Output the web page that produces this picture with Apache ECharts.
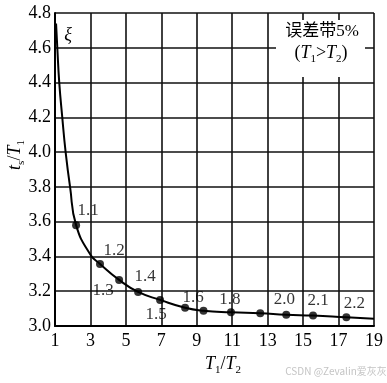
<!DOCTYPE html>
<html>
<head>
<meta charset="utf-8">
<script src="https://cdn.jsdelivr.net/npm/echarts@6/dist/echarts.min.js"></script>
<style>
html,body{margin:0;padding:0;background:#fff;}
#chart{width:387px;height:383px;}
</style>
</head>
<body>
<div id="chart"></div>
<script>
// x ticks (T1/T2)
var xTicks = [1, 3, 5, 7, 9, 11, 13, 15, 17, 19];
// y ticks (ts/T1)
var yTicks = [3.0, 3.2, 3.4, 3.6, 3.8, 4.0, 4.2, 4.4, 4.6, 4.8];
// curve (T1/T2, ts/T1)
var curveX = [1.06, 1.13, 1.24, 1.41, 1.6, 1.85, 2.19, 3.0, 3.54, 4.62, 5.69, 6.93, 8.34, 9.38, 10.93, 12.58, 14.05, 15.56, 17.44, 19];
var curveY = [4.74, 4.6, 4.4, 4.2, 4.0, 3.8, 3.58, 3.41, 3.357, 3.265, 3.196, 3.15, 3.105, 3.088, 3.079, 3.073, 3.065, 3.06, 3.05, 3.042];
// marked points (xi values)
var pointX = [2.19, 3.54, 4.62, 5.69, 6.93, 8.34, 9.38, 10.93, 12.58, 14.05, 15.56, 17.44];
var pointY = [3.58, 3.357, 3.265, 3.196, 3.15, 3.105, 3.088, 3.079, 3.073, 3.065, 3.06, 3.05];
var pointLabels = ['1.1', '1.2', '1.3', '1.4', '1.5', '1.6', '', '1.8', '', '2.0', '2.1', '2.2'];

// label layout (styling, not data)
var labelOffset = {
  '1.1': [12, -15], '1.2': [14, -13], '1.3': [-16, 11], '1.4': [7, -15],
  '1.5': [-4, 15], '1.6': [8, -10], '1.8': [-1, -13], '2.0': [-2, -15],
  '2.1': [5, -15], '2.2': [8, -14]
};

var SERIF = "'Liberation Serif', 'Times New Roman', serif";
var CJK = "'Liberation Serif', 'Noto Sans CJK SC', serif";

var curveData = curveX.map(function (x, i) { return [x, curveY[i]]; });
var pointData = pointX.map(function (x, i) {
  var lab = pointLabels[i];
  return {
    value: [x, pointY[i]],
    label: {
      show: lab !== '',
      formatter: lab,
      position: 'inside',
      offset: labelOffset[lab] || [0, 0]
    }
  };
});

var subRich = {
  n: { fontFamily: SERIF, fontSize: 18, color: '#000', lineHeight: 24, verticalAlign: 'middle' },
  i: { fontFamily: SERIF, fontSize: 18, fontStyle: 'italic', color: '#000', lineHeight: 24, verticalAlign: 'middle' },
  s: { fontFamily: SERIF, fontSize: 11, color: '#000', lineHeight: 14, verticalAlign: 'bottom' }
};

var chart = echarts.init(document.getElementById('chart'), null, { renderer: 'canvas' });
chart.setOption({
  animation: false,
  backgroundColor: '#fff',
  grid: { left: 55, right: 13, top: 13, bottom: 57, containLabel: false },
  xAxis: {
    type: 'value',
    min: xTicks[0], max: xTicks[xTicks.length - 1], interval: 2,
    axisLine: { show: true, lineStyle: { color: '#000', width: 2 } },
    axisTick: { show: false },
    axisLabel: { fontFamily: SERIF, fontSize: 18, color: '#000', margin: 6 },
    splitLine: { show: true, lineStyle: { color: '#111', width: 1.6 } }
  },
  yAxis: {
    type: 'value',
    min: yTicks[0], max: yTicks[yTicks.length - 1], interval: 0.2,
    axisLine: { show: true, lineStyle: { color: '#000', width: 2 } },
    axisTick: { show: false },
    axisLabel: { fontFamily: SERIF, fontSize: 18, color: '#000', margin: 4,
      formatter: function (v) { return v.toFixed(1); } },
    splitLine: { show: true, lineStyle: { color: '#111', width: 1.6 } }
  },
  series: [
    {
      type: 'line',
      data: curveData,
      smooth: 0.5,
      showSymbol: false,
      lineStyle: { color: '#000', width: 2 },
      z: 3
    },
    {
      type: 'scatter',
      data: pointData,
      symbol: 'circle',
      symbolSize: 8,
      itemStyle: { color: '#000' },
      label: { fontFamily: SERIF, fontSize: 17, color: '#000' },
      z: 4
    }
  ],
  graphic: [
    { type: 'rect', z: 100, shape: { x: 276, y: 20, width: 89, height: 57 }, style: { fill: '#fff' } },
    { type: 'text', z: 101, x: 322, y: 32,
      style: { text: '误差带5%', font: "17px " + CJK, fill: '#000', align: 'center', verticalAlign: 'middle' } },
    { type: 'text', z: 101, x: 321, y: 53,
      style: { text: '{n|(}{i|T}{s|1}{n|>}{i|T}{s|2}{n|)}', rich: subRich, align: 'center', verticalAlign: 'middle' } },
    { type: 'text', z: 101, x: 68, y: 35,
      style: { text: 'ξ', font: "italic 18px " + SERIF, fill: '#000', align: 'center', verticalAlign: 'middle' } },
    { type: 'text', z: 101, x: 223, y: 364,
      style: { text: '{i|T}{s|1}{n|/}{i|T}{s|2}', rich: subRich, align: 'center', verticalAlign: 'middle' } },
    { type: 'text', z: 101, x: 15, y: 155, rotation: Math.PI / 2,
      style: { text: '{i|t}{s|s}{n|/}{i|T}{s|1}', rich: subRich, align: 'center', verticalAlign: 'middle' } },
    { type: 'text', z: 101, x: 336, y: 371,
      style: { text: 'CSDN @Zevalin爱灰灰', font: "10px 'Noto Sans CJK SC', sans-serif", fill: '#c4c4c4', align: 'center', verticalAlign: 'middle' } }
  ]
});
</script>
</body>
</html>
